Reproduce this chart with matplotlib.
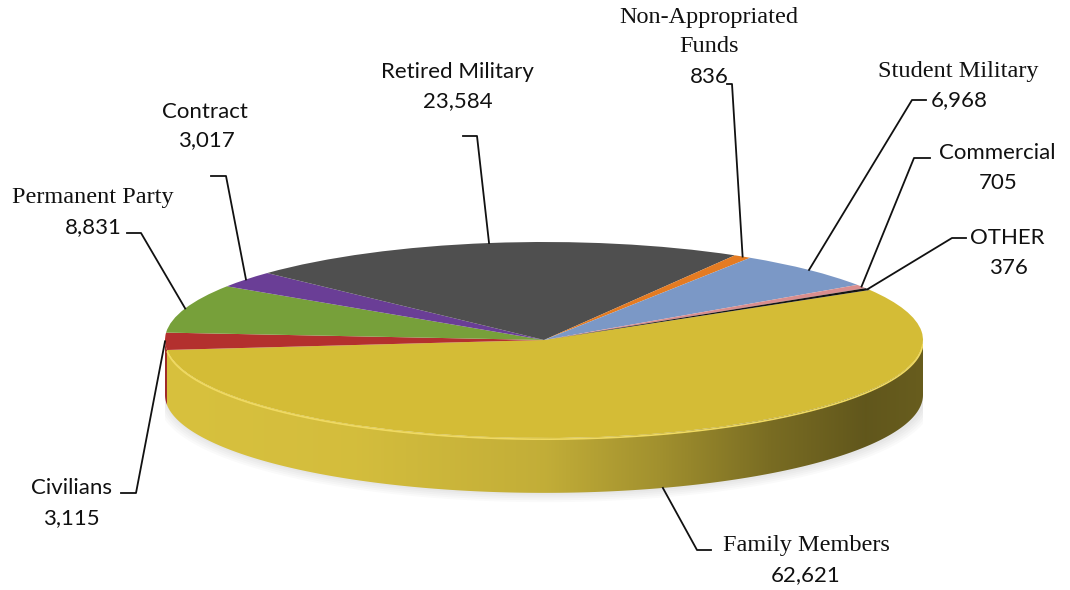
import numpy as np
import matplotlib
matplotlib.use('Agg')
import matplotlib.pyplot as plt
from matplotlib.colors import to_rgb
from matplotlib.patches import Polygon

# clockwise order, starting with the big slice
names = ['Family Members', 'Civilians', 'Permanent Party', 'Contract', 'Retired Military',
         'Non-Appropriated\nFunds', 'Student Military', 'Commercial', 'OTHER']
values = [62621, 3115, 8831, 3017, 23584, 836, 6968, 705, 376]
colors = ['#d4bc36', '#b3302e', '#77a03a', '#6a3e96', '#4f4f4f',
          '#e47b22', '#7b98c6', '#d98e8e', '#151515']
side_colors = ['#d8c13e', '#a02a28', '#5f8030', '#55317a', '#3c3c3c',
               '#b86018', '#5f7aa3', '#b07070', '#101010']
serif_name = [True, False, True, False, False, True, True, False, False]

# label layout (image pixels): name centre, number centre, elbow of leader line
label_pos = [(806, 545, 806, 575), (71, 488, 71, 518), (93, 197, 93, 227),
             (205, 112, 206, 140), (457, 72, 458, 101), (709, 17, 709, 77),
             (958, 71, 959, 100), (997, 153, 998, 183), (1007, 238, 1008, 268)]
elbows = [[(697, 550), (711, 550)], [(136, 493), (121, 493)], [(141, 233), (127, 233)],
          [(226, 176), (211, 176)], [(477, 136), (463, 136)], [(732, 84), (727, 84)],
          [(912, 100), (926, 100)], [(914, 158), (930, 158)], [(952, 238), (966, 238)]]

W, H = 1070, 590
depth = 0.56  # side height in units of the vertical radius
ry = 98.0

fig = plt.figure(figsize=(W / 100, H / 100), dpi=100)
ax = fig.add_axes([165 / W, (H - (340 + 1.7 * ry)) / H, 758 / W, 2.7 * ry / H])
ax.axis('off')

total = sum(values)
start = 30.7
spans = [v / total * 360 for v in values]
bounds = start - np.concatenate([[0], np.cumsum(spans)])  # clockwise boundaries

# soft shadow
tt = np.linspace(np.pi, 2 * np.pi, 200)
for k in range(5):
    s = 1.0 + 0.004 * (k + 1)
    xs = np.concatenate([np.cos(tt) * s + 0.004, (np.cos(tt) * s + 0.004)[::-1]])
    ys = np.concatenate([np.sin(tt) * s - depth - 0.015 * (k + 1), (np.sin(tt) * s)[::-1]])
    ax.fill(xs, ys, color='#000000', alpha=0.018, lw=0, zorder=0)

# side walls, gradient from light (left) to dark (right)
shade_x = [-1.0, -0.5, 0.0, 0.3, 0.6, 0.85, 1.0]
shade_f = [1.0, 0.98, 0.9, 0.75, 0.56, 0.45, 0.48]
gx = np.linspace(-1, 1, 600)
gf = np.interp(gx, shade_x, shade_f)


def side(i, a_hi, a_lo):
    t = np.radians(np.linspace(a_hi, a_lo, 200))
    xy = np.column_stack([np.concatenate([np.cos(t), np.cos(t[::-1])]),
                          np.concatenate([np.sin(t), np.sin(t[::-1]) - depth])])
    poly = Polygon(xy, closed=True, fc='none', ec='none', transform=ax.transData)
    ax.add_patch(poly)
    img = np.clip(np.array(to_rgb(side_colors[i]))[None, None, :] * gf[None, :, None], 0, 1)
    im = ax.imshow(img, extent=(-1, 1, -1.7, 0.1), aspect='auto', zorder=1,
                   interpolation='bilinear')
    im.set_clip_path(poly)


side(0, 0, bounds[1])
side(1, bounds[1], -180)

wedges, _ = ax.pie(values, colors=colors, startangle=start, counterclock=False,
                   radius=1, wedgeprops=dict(linewidth=0))
for w in wedges:
    w.set_zorder(2)
ax.set_aspect('auto')
ax.set_xlim(-1, 1)
ax.set_ylim(-1.7, 1)

# rim highlight on the front of the big slice
hl = np.radians(np.linspace(bounds[1] + 0.5, -2, 200))
ax.plot(np.cos(hl), np.sin(hl) - 0.012, color='#f0da62', lw=1.2, zorder=3)

# overlay for labels
ov = fig.add_axes([0, 0, 1, 1], facecolor='none')
ov.set_xlim(0, W)
ov.set_ylim(H, 0)
ov.axis('off')
inv = ov.transData.inverted()

for i, name in enumerate(names):
    mid = np.radians((bounds[i] + bounds[i + 1]) / 2)
    px, py = np.cos(mid), np.sin(mid)
    if py < -0.3:
        py -= depth
    ax_pt = inv.transform(ax.transData.transform((px, py)))
    pts = [tuple(ax_pt)] + elbows[i]
    ov.plot([p[0] for p in pts], [p[1] for p in pts], color='#111111', lw=1.3)

    nx, ny, vx, vy = label_pos[i]
    for k, line in enumerate(name.split('\n')):
        if serif_name[i]:
            ov.text(nx, ny + 30 * k, line, ha='center', va='center', fontsize=17.5,
                    family='Liberation Serif', color='#111111')
        else:
            ov.text(nx, ny + 30 * k, line, ha='center', va='center', fontsize=16,
                    family='Lato', color='#111111')
    ov.text(vx, vy, f'{values[i]:,}', ha='center', va='center', fontsize=16,
            family='Lato', color='#111111')

fig.savefig('out.png', dpi=100)
